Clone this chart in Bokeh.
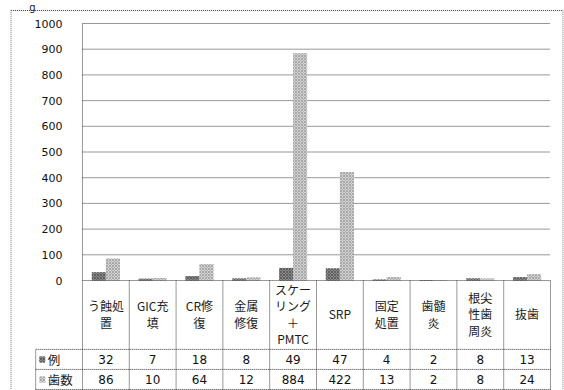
from bokeh.plotting import figure
from bokeh.models import Range1d, FixedTicker
from bokeh.core.properties import value
from bokeh.embed import file_html
from bokeh.resources import INLINE

# ---- data -------------------------------------------------------------
categories = [
    "う蝕処\n置", "GIC充\n填", "CR修\n復", "金属\n修復",
    "スケー\nリング\n＋\nPMTC", "SRP", "固定\n処置", "歯髄\n炎",
    "根尖\n性歯\n周炎", "抜歯",
]
cases = [32, 7, 18, 8, 49, 47, 4, 2, 8, 13]      # 例
teeth = [86, 10, 64, 12, 884, 422, 13, 2, 8, 24]  # 歯数
series_names = ["例", "歯数"]
y_ticks = list(range(0, 1001, 100))

# ---- layout constants (data units) -------------------------------------
HEADER_BOTTOM = -268   # bottom of the category-name row of the table
ROW_SPLIT = -346       # between the 例 and 歯数 rows
TABLE_BOTTOM = -424
HEADER_MID = -130
ROW_MIDS = [-307, -385]
X_MIN, X_MAX = -1.538, 10.278
Y_MIN, Y_MAX = -428, 1089.5
BORDER = dict(left=-1.53, right=10.27, bottom=-440, top=1050.6)

DARK = dict(fill_color="#8a8a8a", hatch_pattern="diagonal_cross",
            hatch_color="#5e5e5e", hatch_scale=3, hatch_weight=1)
LIGHT = dict(fill_color="#d2d2d2", hatch_pattern="diagonal_cross",
             hatch_color="#a8a8a8", hatch_scale=3, hatch_weight=1)

LINE = dict(line_color="#333333", line_width=1, line_dash="1 1")

n = len(categories)
centers = [i + 0.5 for i in range(n)]

p = figure(width=564, height=390, output_backend="svg", toolbar_location=None,
           x_range=Range1d(X_MIN, X_MAX), y_range=Range1d(Y_MIN, Y_MAX),
           x_axis_type=None, min_border_left=10, min_border_right=1,
           min_border_top=0, min_border_bottom=0)
p.background_fill_color = "white"
p.border_fill_color = "white"
p.outline_line_color = None
p.xgrid.visible = False
p.ygrid.visible = False

# chart-area border
p.quad(left=[BORDER["left"]], right=[BORDER["right"]],
       bottom=[BORDER["bottom"]], top=[BORDER["top"]],
       fill_color=None, **LINE)

# value axis placed at the left edge of the plotting area
ax = p.yaxis[0]
ax.fixed_location = 0
ax.ticker = FixedTicker(ticks=y_ticks)
ax.axis_line_color = None
ax.major_tick_line_color = None
ax.minor_tick_line_color = None
ax.major_label_standoff = 14
ax.major_label_text_font = "DejaVu Sans"
ax.major_label_text_font_size = "11px"
ax.major_label_text_color = "#111111"

# horizontal gridlines across the plotting area
grid_y = [t for t in y_ticks if t > 0]
p.segment(x0=[0] * len(grid_y), x1=[n] * len(grid_y), y0=grid_y, y1=grid_y, **LINE)

# bars
p.vbar(x=[c - 0.15 for c in centers], top=cases, width=0.3, bottom=0,
       line_color=None, **DARK)
p.vbar(x=[c + 0.15 for c in centers], top=teeth, width=0.3, bottom=0,
       line_color=None, **LIGHT)

# data table below the chart: rules
p.segment(x0=[0, -1, -1, -1], x1=[n, n, n, n],
          y0=[0, HEADER_BOTTOM, ROW_SPLIT, TABLE_BOTTOM],
          y1=[0, HEADER_BOTTOM, ROW_SPLIT, TABLE_BOTTOM], **LINE)
p.segment(x0=[0], x1=[0], y0=[TABLE_BOTTOM], y1=[1000], **LINE)
p.segment(x0=[-1], x1=[-1], y0=[TABLE_BOTTOM], y1=[HEADER_BOTTOM], **LINE)
xs = list(range(1, n + 1))
p.segment(x0=xs, x1=xs, y0=[TABLE_BOTTOM] * n, y1=[0] * n, **LINE)

# category names
p.text(x=centers, y=[HEADER_MID] * n, text=categories,
       text_align="center", text_baseline="middle", text_line_height=0.97,
       text_font=value("Noto Sans CJK JP"), text_font_size="12px",
       text_color="#1a1a1a")

# values
for row_y, vals in zip(ROW_MIDS, [cases, teeth]):
    p.text(x=centers, y=[row_y] * n, text=[str(v) for v in vals],
           text_align="center", text_baseline="middle",
           text_font=value("DejaVu Sans"), text_font_size="12px",
           text_color="#111111")

# legend keys in the first column
p.rect(x=[-0.86], y=[ROW_MIDS[0]], width=6, height=6, width_units="screen",
       height_units="screen", line_color=None, **DARK)
p.rect(x=[-0.86], y=[ROW_MIDS[1]], width=6, height=6, width_units="screen",
       height_units="screen", line_color=None, **LIGHT)
p.text(x=[-0.74, -0.74], y=ROW_MIDS, text=series_names,
       text_align="left", text_baseline="middle",
       text_font=value("Noto Sans CJK JP"), text_font_size="12.5px",
       text_color="#1a1a1a")

# caption fragment above the border
p.text(x=[-1.14], y=[1062], text=["g"], text_align="left",
       text_baseline="alphabetic", text_font=value("DejaVu Sans"),
       text_font_size="10px", text_color="#222222")

open("out.html", "w").write(file_html(p, INLINE))
